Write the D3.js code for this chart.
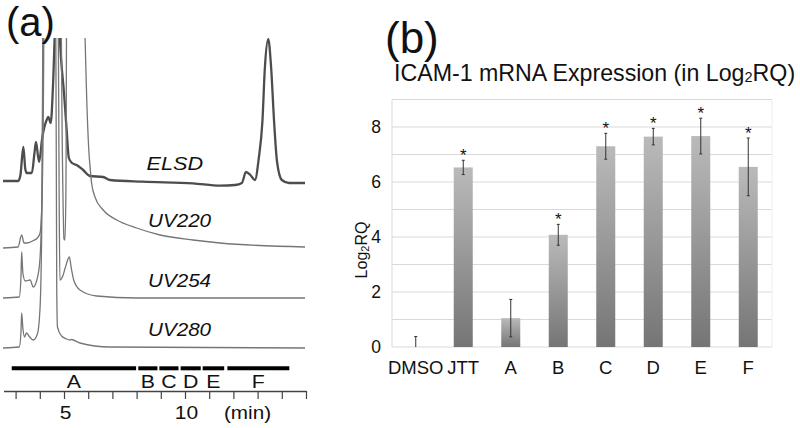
<!DOCTYPE html>
<html><head><meta charset="utf-8">
<script src="https://cdn.jsdelivr.net/npm/d3@7"></script>
<style>body{margin:0;background:#fff}svg{display:block;font-family:"Liberation Sans",Arial,sans-serif}</style>
</head><body><svg id="c" width="800" height="428"></svg>
<script>
// ---------- Panel (a): chromatograms, [time (min), signal (a.u.)] ----------
const elsd = [[2.48,2],[3.11,2],[3.2,8],[3.32,36],[3.4,14],[3.46,10],[3.67,10],[3.78,30],[3.84,41],[3.97,21],[4.1,45],[4.3,64],[4.35,66],[4.45,60],[4.55,100],[4.65,170],[4.75,200],[4.83,145],[5.0,90],[5.11,53],[5.2,25],[5.33,20],[5.52,18],[5.79,13],[6.07,7],[6.62,6],[6.9,3],[8.26,1.3],[10.33,-0.3],[11.45,-2.7],[12.07,-2],[12.35,0],[12.52,11],[12.7,8],[12.89,3],[13.05,25],[13.2,62],[13.3,115],[13.44,144],[13.56,115],[13.68,62],[13.8,22],[14.0,3],[14.3,0],[14.96,0]];
const uv220 = [[2.48,0],[3.1,1],[3.25,13],[3.35,5],[3.46,5],[3.7,7],[3.9,10],[4.01,15],[4.08,40],[4.14,120],[4.2,300],[4.85,300],[4.93,100],[5.0,9],[5.04,8],[5.08,60],[5.12,300],[5.8,300],[5.87,210],[5.94,148],[6.02,100],[6.1,75],[6.14,65],[6.28,51],[6.62,38],[7.18,28],[8.0,20],[8.97,13],[10.33,8],[11.45,5],[14.96,1]];
const uv254 = [[2.48,0],[3.15,1],[3.22,20],[3.25,46],[3.3,25],[3.4,17],[3.6,18],[3.73,11],[3.9,20],[4.01,40],[4.1,120],[4.15,320],[4.75,320],[4.8,100],[4.83,18],[4.95,22],[5.05,30],[5.22,41],[5.3,30],[5.4,18],[5.66,8],[6.35,2],[8.0,0],[14.96,0]];
const uv280 = [[2.48,0],[3.15,1],[3.22,15],[3.25,35],[3.3,20],[3.37,11],[3.45,15],[3.55,12],[3.73,8],[3.9,14],[4.01,40],[4.08,120],[4.15,380],[4.65,380],[4.7,60],[4.73,21],[4.9,12],[5.1,9],[5.25,8],[5.3,8.5],[5.66,5],[6.9,1],[14.96,0]];
const traceNames = ["ELSD","UV220","UV254","UV280"];
const timeTicks = [3,4,5,6,7,8,9,10,11,12,13,14,15];
const timeLabels = [5,10];
const fracNames = ["A","B","C","D","E","F"];
const fracStart = [2.84,8.07,8.94,9.82,10.73,11.75];
const fracEnd = [7.98,8.86,9.73,10.65,11.62,14.31];

// ---------- Panel (b): bar chart ----------
const categories = ["DMSO","JTT","A","B","C","D","E","F"];
const log2RQ = [0,6.53,1.05,4.08,7.3,7.65,7.67,6.55];
const errSD = [0.38,0.26,0.68,0.38,0.47,0.30,0.65,1.05];
const significant = [false,true,false,true,true,true,true,true];
const yTicks = [0,2,4,6,8];
const gridVals = [0,1,2,3,4,5,6,7,8,9];

const svg = d3.select("#c");
svg.append("rect").attr("width",800).attr("height",428).attr("fill","#fff");

function stext(parent, x, y, txt, size, anchor, sx, opts={}) {
  const g = parent.append("g").attr("transform", `translate(${x},${y}) scale(${sx},1)`);
  const t = g.append("text").attr("text-anchor", anchor).attr("font-size", size).attr("fill", opts.fill||"#111").text(txt);
  if (opts.italic) t.attr("font-style","italic");
  return t;
}

// ===== Panel (a)
const pa = svg.append("g");
const xA = d3.scaleLinear().domain([2.5,15]).range([3.5,306]);
const defs = svg.append("defs");
defs.append("clipPath").attr("id","clipA").append("rect").attr("x",0).attr("y",38).attr("width",320).attr("height",360);
const bases = [183,248,298,348];
const series = [elsd, uv220, uv254, uv280];
const traceG = pa.append("g").attr("clip-path","url(#clipA)");
series.forEach((s,i)=>{
  const y = d3.scaleLinear().domain([0,100]).range([bases[i], bases[i]-100]);
  const line = d3.line().x(d=>xA(d[0])).y(d=>y(d[1])).curve(d3.curveMonotoneX);
  traceG.append("path").attr("d", line(s)).attr("fill","none")
    .attr("stroke", i===0 ? "#4d4d4d" : "#767676")
    .attr("stroke-width", i===0 ? 2.3 : 1.3)
    .attr("stroke-linejoin","round");
});
// trace labels
const labelPos = [[146.5,170],[148,227.3],[148,287.3],[148,336]];
traceNames.forEach((n,i)=>{
  stext(pa, labelPos[i][0], labelPos[i][1], n, i===0?18.5:17.5, "start", i===0?1.17:1.18, {italic:true});
});
// fraction bars
fracNames.forEach((n,i)=>{
  pa.append("line").attr("x1",xA(fracStart[i])).attr("x2",xA(fracEnd[i])).attr("y1",368.3).attr("y2",368.3)
    .attr("stroke","#000").attr("stroke-width",4);
  stext(pa, xA((fracStart[i]+fracEnd[i])/2), 388.3, n, 18.5, "middle", 1.15);
});
// time axis
const axA = d3.axisBottom(xA).tickValues(timeTicks).tickSize(8).tickSizeOuter(0).tickFormat("");
const axG = pa.append("g").attr("transform","translate(0,391)").call(axA);
axG.select(".domain").attr("stroke","#444").attr("stroke-width",1.5);
axG.selectAll(".tick line").attr("stroke","#444").attr("stroke-width",1.2);
timeLabels.forEach(t=> stext(pa, xA(t)+1.5, 419, String(t), 17.5, "middle", 1.2));
stext(pa, 247.5, 419, "(min)", 18, "middle", 1.15);
stext(pa, 6, 36, "(a)", 40, "start", 1.0);

// ===== Panel (b)
const pb = svg.append("g");
const xB = d3.scaleBand().domain(categories).range([392,772]);
const yB = d3.scaleLinear().domain([0,9]).range([347,99.5]);
const grad = defs.append("linearGradient").attr("id","barGrad").attr("x1",0).attr("y1",0).attr("x2",0).attr("y2",1);
grad.append("stop").attr("offset","0%").attr("stop-color","#bababa");
grad.append("stop").attr("offset","100%").attr("stop-color","#757575");

pb.selectAll("line.grid").data(gridVals).join("line").attr("class","grid")
  .attr("x1",392).attr("x2",772).attr("y1",d=>yB(d)).attr("y2",d=>yB(d))
  .attr("stroke","#d9d9d9").attr("stroke-width",1);
pb.append("line").attr("x1",392).attr("x2",392).attr("y1",yB(9)).attr("y2",yB(0)).attr("stroke","#d9d9d9");
pb.append("line").attr("x1",772).attr("x2",772).attr("y1",yB(9)).attr("y2",yB(0)).attr("stroke","#ececec");

const bw = xB.bandwidth()*0.4;
pb.selectAll("rect.bar").data(categories).join("rect").attr("class","bar")
  .attr("x",d=>xB(d)+xB.bandwidth()/2-bw/2).attr("width",bw)
  .attr("y",(d,i)=>yB(log2RQ[i])).attr("height",(d,i)=>yB(0)-yB(log2RQ[i]))
  .attr("fill","url(#barGrad)");
// error bars
categories.forEach((c,i)=>{
  const cx = xB(c)+xB.bandwidth()/2;
  const hi = log2RQ[i]+errSD[i], lo = Math.max(0, log2RQ[i]-errSD[i]);
  pb.append("line").attr("x1",cx).attr("x2",cx).attr("y1",yB(hi)).attr("y2",yB(lo)).attr("stroke","#333").attr("stroke-width",1);
  [hi, lo].forEach(v=>{ if (v>0) pb.append("line").attr("x1",cx-1.5).attr("x2",cx+1.5).attr("y1",yB(v)).attr("y2",yB(v)).attr("stroke","#333").attr("stroke-width",1); });
  if (significant[i]) pb.append("text").attr("x",cx).attr("y",yB(hi)+1).attr("text-anchor","middle").attr("font-size",17).attr("fill","#111").text("*");
});
// y tick labels
yTicks.forEach(v=>{
  pb.append("text").attr("x",381).attr("y",yB(v)).attr("dy","0.36em").attr("text-anchor","end").attr("font-size",17.5).attr("fill","#111").text(v);
});
// category labels
categories.forEach(c=>{
  pb.append("text").attr("x",xB(c)+xB.bandwidth()/2).attr("y",374.3).attr("text-anchor","middle").attr("font-size",18.5).attr("fill","#111").text(c);
});
// y title
const yt = pb.append("text").attr("transform","translate(367,250) rotate(-90)").attr("text-anchor","middle").attr("font-size",16).attr("fill","#111");
yt.append("tspan").text("Log");
yt.append("tspan").attr("font-size",11).attr("dy",2).text("2");
yt.append("tspan").attr("dy",-2).text("RQ");
// title
const tt = pb.append("text").attr("x",394).attr("y",80.5).attr("font-size",23.2).attr("fill","#111");
tt.append("tspan").text("ICAM-1 mRNA Expression (in Log");
tt.append("tspan").attr("font-size",14.5).attr("dy",1).text("2");
tt.append("tspan").attr("dy",-1).text("RQ)");
pb.append("text").attr("x",385).attr("y",53).attr("font-size",44).attr("fill","#111").text("(b)");
</script></body></html>
